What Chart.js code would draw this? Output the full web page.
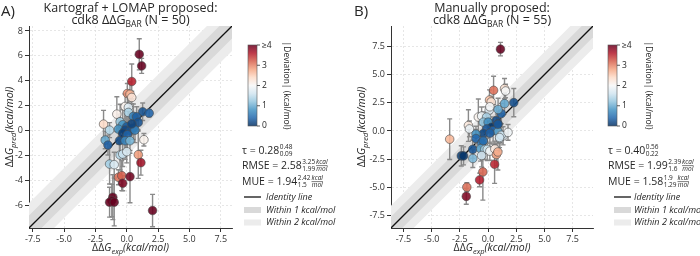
<!DOCTYPE html>
<html><head><meta charset="utf-8">
<script src="https://cdn.jsdelivr.net/npm/chart.js@4.4.1/dist/chart.umd.min.js"></script>
<style>
html,body{margin:0;padding:0;background:#fff;}
#wrap{display:flex;width:700px;height:256px;}
canvas{display:block;}
</style></head><body>
<div id="wrap"><canvas id="cA" width="350" height="256"></canvas><canvas id="cB" width="350" height="256"></canvas></div>
<script>
// ---------- Panel A data (Kartograf + LOMAP) ----------
const expA  = [1.0,1.19,0.40,0.05,0.26,0.40,-0.13,0.13,1.27,1.79,0.13,-0.79,0.53,0.79,-0.53,0.92,-1.85,-0.32,-1.37,-0.66,0.0,-0.13,0.26,0.53,0.66,-0.32,0.05,-1.72,-0.58,-0.13,0.26,1.37,-1.5,-0.53,-0.32,0.0,0.92,-1.37,-1.0,1.13,-0.66,-0.4,0.26,-0.32,-1.11,-1.19,-1.37,-1.0,2.06,0.4];
const predA = [6.13,5.2,3.95,2.99,2.93,2.67,1.95,1.87,1.52,1.41,1.47,1.33,1.15,1.12,0.72,0.67,0.53,0.48,0.05,0.13,0.32,0.05,0.0,0.21,0.05,-0.21,-0.32,-0.75,-0.8,-0.8,-0.8,-0.72,-1.15,-1.95,-1.87,-1.68,-1.92,-2.67,-2.72,-2.56,-3.73,-3.6,-3.68,-4.21,-5.33,-5.6,-5.73,-5.73,-6.4,0.55];
const errA  = [1.25,0.6,1.4,0.8,1.0,0.5,1.0,1.1,0.7,0.3,1.5,1.4,1.0,0.8,1.4,0.6,1.1,1.2,0.6,1.2,0.8,1.6,1.0,0.9,1.0,0.8,1.2,0.7,1.0,1.5,1.0,0.5,0.8,1.2,1.0,0.9,1.9,1.6,1.0,1.0,0.6,1.2,2.1,0.6,1.8,1.3,1.2,1.9,1.3,0.9];
// ---------- Panel B data (Manually proposed) ----------
const expB  = [1.1,1.46,1.55,0.49,0.13,0.28,1.46,2.28,0.1,0.16,-0.86,-0.57,-0.13,-1.74,-1.65,-3.4,-0.42,0.01,0.74,0.89,0.31,-0.13,0.45,-0.42,-1.07,-1.07,0.89,0.16,1.04,1.33,1.17,-0.57,-0.42,-1.36,-0.66,-0.28,-0.07,0.16,0.6,0.74,-0.57,-2.37,-2.17,-1.35,1.02,0.87,0.58,-0.46,-0.75,-1.88,-1.93,0.87,1.18,0.89,1.77];
const predB = [7.25,3.75,3.54,3.6,2.74,2.57,2.42,2.51,1.84,2.14,1.23,1.32,1.23,0.48,0.18,-0.73,0.78,0.78,0.93,0.63,0.33,0.18,0.03,-0.22,-0.28,-0.67,-0.06,-0.19,-0.67,-0.43,-0.38,-1.09,-0.88,-1.63,-1.57,-1.63,-1.63,-1.79,-1.6,-2.09,-2.18,-2.21,-2.21,-2.44,-0.58,-1.86,-2.95,-3.63,-4.34,-4.98,-5.8,0.59,1.54,1.9,-0.13];
const errB  = [0.6,0.9,0.6,1.25,0.9,0.5,0.9,1.25,1.0,0.6,1.6,0.8,0.9,1.4,0.7,1.8,0.9,1.0,1.2,0.8,0.7,0.8,1.2,0.9,0.7,0.8,0.9,0.9,1.1,0.8,0.7,1.0,0.9,0.8,1.1,0.9,1.0,0.8,0.7,1.0,1.0,0.9,0.8,0.8,0.9,1.6,1.7,2.5,0.6,0.4,0.7,0.9,0.9,1.0,0.7];

// ---------- axes / ticks ----------
const limA = [-7.8, 8.4];
const limB = [-8.6, 9.3];
const xTicksA = [-7.5,-5,-2.5,0,2.5,5,7.5];
const xTickLabelsA = ["-7.5","-5.0","-2.5","0.0","2.5","5.0","7.5"];
const yTicksA = [-6,-4,-2,0,2,4,6,8];
const yTickLabelsA = ["-6","-4","-2","0","2","4","6","8"];
const ticksB = [-7.5,-5,-2.5,0,2.5,5,7.5];
const tickLabelsB = ["-7.5","-5.0","-2.5","0.0","2.5","5.0","7.5"];
const bandWidths = [1, 2];
const cbTicks = [0,1,2,3,4];
const cbTickLabels = ["0","1","2","3","\u22654"];
const devMax = 4;

// ---------- texts ----------
const titleA = ["Kartograf + LOMAP proposed:", "cdk8 \u0394\u0394G", "BAR", " (N = 50)"];
const titleB = ["Manually proposed:", "cdk8 \u0394\u0394G", "BAR", " (N = 55)"];
const tauA  = ["0.28","0.48","0.09"];
const rmseA = ["2.58","3.25","1.99"];
const mueA  = ["1.94","2.42","1.5"];
const tauB  = ["0.40","0.56","0.22"];
const rmseB = ["1.99","2.39","1.6"];
const mueB  = ["1.58","1.9","1.29"];
const legendLabels = ["Identity line","Within 1 kcal/mol","Within 2 kcal/mol"];

// ---------- style ----------
const FONT = '"Open Sans", "DejaVu Sans", sans-serif';
const TXT = '#262626';
const BAND1 = '#d9d9d9', BAND2 = '#ececec';
const RdBu_r = ['#053061','#2166ac','#4393c3','#92c5de','#d1e5f0','#f7f7f7','#fddbc7','#f4a582','#d6604d','#b2182b','#67001f'];
function hex2rgb(h){return [parseInt(h.substr(1,2),16),parseInt(h.substr(3,2),16),parseInt(h.substr(5,2),16)];}
function cmap(t, a){
  t = Math.max(0, Math.min(1, t));
  const p = t*10, i = Math.min(9, Math.floor(p)), f = p - i;
  const c0 = hex2rgb(RdBu_r[i]), c1 = hex2rgb(RdBu_r[i+1]);
  const c = c0.map((v,k)=>Math.round(v + (c1[k]-v)*f));
  return `rgba(${c[0]},${c[1]},${c[2]},${a})`;
}
function fnt(size, style){ return (style||'') + ' ' + size + 'px ' + FONT; }

function drawParts(ctx, parts, x, y, align){
  let w = 0;
  parts.forEach(p => { ctx.font = fnt(p.size, p.style); p.w = ctx.measureText(p.t).width; w += p.w; });
  let cx = align === 'center' ? x - w/2 : x;
  ctx.textAlign = 'left'; ctx.textBaseline = 'alphabetic';
  parts.forEach(p => { ctx.font = fnt(p.size, p.style); ctx.fillText(p.t, cx, y + (p.dy||0)); cx += p.w; });
  return w;
}

function drawStat(ctx, label, vals, x, y, unit){
  ctx.fillStyle = TXT; ctx.textAlign='left'; ctx.textBaseline='alphabetic';
  ctx.font = fnt(10.5);
  const main = label + ' = ' + vals[0];
  ctx.fillText(main, x, y);
  let cx = x + ctx.measureText(main).width + 0.5;
  ctx.font = fnt(6.5);
  ctx.fillText(vals[1], cx, y - 4.8);
  ctx.fillText(vals[2], cx, y + 1.8);
  cx += Math.max(ctx.measureText(vals[1]).width, ctx.measureText(vals[2]).width) + 1;
  if (unit){
    ctx.font = fnt(6.5, 'italic');
    const wk = ctx.measureText('kcal').width, wm = ctx.measureText('mol').width;
    ctx.fillText('kcal', cx, y - 4.8);
    ctx.fillText('mol', cx + (wk-wm)/2, y + 2.2);
    ctx.strokeStyle = TXT; ctx.lineWidth = 0.6;
    ctx.beginPath(); ctx.moveTo(cx, y-3.4); ctx.lineTo(cx+wk, y-3.4); ctx.stroke();
  }
}

const errorBars = {
  id:'errorBars',
  beforeDatasetDraw(chart, args){
    const ds = chart.data.datasets[args.index];
    if (!ds.errors) return;
    const {ctx, chartArea:a, scales:{x, y}} = chart;
    ctx.save();
    ctx.beginPath(); ctx.rect(a.left, a.top, a.right-a.left, a.bottom-a.top); ctx.clip();
    ctx.strokeStyle = '#8a8a8a'; ctx.lineWidth = 1.4;
    ds.data.forEach((p, i) => {
      const px = x.getPixelForValue(p.x);
      const y1 = y.getPixelForValue(p.y + ds.errors[i]);
      const y2 = y.getPixelForValue(p.y - ds.errors[i]);
      ctx.beginPath();
      ctx.moveTo(px, y1); ctx.lineTo(px, y2);
      ctx.moveTo(px-2.5, y1); ctx.lineTo(px+2.5, y1);
      ctx.moveTo(px-2.5, y2); ctx.lineTo(px+2.5, y2);
      ctx.stroke();
    });
    ctx.restore();
  }
};

const annotations = {
  id:'annotations',
  afterDraw(chart, args, o){
    const ctx = chart.ctx, a = chart.chartArea;
    const cxm = (a.left + a.right)/2;
    ctx.save();
    ctx.fillStyle = TXT;
    ctx.font = fnt(15); ctx.textAlign='left'; ctx.textBaseline='alphabetic';
    ctx.fillText(o.letter, o.letterX, 16);
    drawParts(ctx, [{t:o.title[0], size:12.5}], cxm, 12, 'center');
    drawParts(ctx, [{t:o.title[1], size:12.5},{t:o.title[2], size:8.5, dy:2.5},{t:o.title[3], size:12.5}], cxm, 24, 'center');
    drawParts(ctx, [{t:'\u0394\u0394', size:10.5},{t:'G', size:10.5, style:'italic'},{t:'exp', size:7.5, style:'italic', dy:2.5},{t:'(kcal/mol)', size:10.5, style:'italic'}], cxm, 251, 'center');
    ctx.save();
    ctx.translate(o.yTitleX, (a.top+a.bottom)/2);
    ctx.rotate(-Math.PI/2);
    drawParts(ctx, [{t:'\u0394\u0394', size:10.5},{t:'G', size:10.5, style:'italic'},{t:'pred', size:7.5, style:'italic', dy:2.5},{t:'(kcal/mol)', size:10.5, style:'italic'}], 0, 4, 'center');
    ctx.restore();
    // colorbar
    const cbL = a.right + o.cbDx, cbW = 9, cbT = 45, cbB = 126;
    const g = ctx.createLinearGradient(0, cbB, 0, cbT);
    for (let k=0;k<=20;k++){ g.addColorStop(k/20, cmap(k/20, 0.85)); }
    ctx.fillStyle = g; ctx.fillRect(cbL, cbT, cbW, cbB-cbT);
    ctx.strokeStyle = '#555'; ctx.lineWidth = 0.6; ctx.strokeRect(cbL, cbT, cbW, cbB-cbT);
    ctx.fillStyle = TXT; ctx.font = fnt(8.5); ctx.textAlign='left'; ctx.textBaseline='middle';
    cbTicks.forEach((v,i)=>{
      const yy = cbB - v/devMax*(cbB-cbT);
      ctx.strokeStyle = '#333'; ctx.lineWidth = 0.8;
      ctx.beginPath(); ctx.moveTo(cbL+cbW, yy); ctx.lineTo(cbL+cbW+3, yy); ctx.stroke();
      ctx.fillText(cbTickLabels[i], cbL+cbW+5, yy+ (i===cbTicks.length-1 ? 1 : 0));
    });
    ctx.save();
    ctx.translate(cbL + o.cbLabelDx, (cbT+cbB)/2);
    ctx.rotate(Math.PI/2);
    ctx.font = fnt(8.5); ctx.textAlign='center'; ctx.textBaseline='middle';
    ctx.fillText('|Deviation| (kcal/mol)', 0, 0);
    ctx.restore();
    // stats
    const sx = a.right + o.statsDx;
    drawStat(ctx, '\u03c4', o.tau, sx, 154, false);
    drawStat(ctx, 'RMSE', o.rmse, sx, 169, true);
    drawStat(ctx, 'MUE', o.mue, sx, 185, true);
    // legend
    const lx = sx + o.legDx, tx = sx + o.legTx;
    ctx.strokeStyle = '#111'; ctx.lineWidth = 1.3;
    ctx.beginPath(); ctx.moveTo(lx, 197); ctx.lineTo(lx+17, 197); ctx.stroke();
    ctx.fillStyle = BAND1; ctx.fillRect(lx, 207, 17, 6);
    ctx.fillStyle = BAND2; ctx.fillRect(lx, 219.5, 17, 6);
    ctx.fillStyle = TXT; ctx.font = fnt(9, 'italic'); ctx.textAlign='left'; ctx.textBaseline='middle';
    ctx.fillText(legendLabels[0], tx, 197);
    ctx.fillText(legendLabels[1], tx, 210);
    ctx.fillText(legendLabels[2], tx, 222.5);
    ctx.restore();
  }
};

function makePanel(id, P){
  const lim = P.lim;
  const pts = P.exp.map((x,i)=>({x:x, y:P.pred[i]}));
  const cols = P.exp.map((x,i)=>cmap(Math.min(Math.abs(P.pred[i]-x), devMax)/devMax, 0.88));
  const ext = [lim[0]-3, lim[1]+3];
  const lineOf = off => ext.map(v => ({x:v, y:v+off}));
  const noLine = {borderWidth:0, borderColor:'rgba(0,0,0,0)', pointRadius:0, pointHoverRadius:0, tension:0};
  const axis = (ticksArr, labels, isX) => ({
    type:'linear', min:lim[0], max:lim[1],
    afterBuildTicks: ax => { ax.ticks = ticksArr.map(v=>({value:v})); },
    afterFit: s => { if (isX) s.height = 28; else s.width = P.yWidth; },
    ticks:{ callback:(v,i)=>labels[i], font:{family:FONT, size:9}, color:'#333', padding:2, maxRotation:0, autoSkip:false },
    grid:{ color:'#e0e0e0', lineWidth:0.8, tickLength:4, tickColor:'#333', tickWidth:1 },
    border:{ display:true, color:'#333', width:1, dash:[2,2] }
  });
  return new Chart(document.getElementById(id), {
    type:'scatter',
    data:{datasets:[
      {type:'scatter', data:pts, errors:P.err, pointBackgroundColor:cols, pointBorderColor:'#4a4a4a', pointBorderWidth:0.6, pointRadius:4.3, pointHoverRadius:4.3, order:0},
      {type:'line', data:lineOf(0), borderColor:'#111', borderWidth:1.3, pointRadius:0, fill:false, tension:0, order:1},
      Object.assign({type:'line', data:lineOf(bandWidths[0]), fill:'+1', backgroundColor:BAND1, order:2}, noLine),
      Object.assign({type:'line', data:lineOf(-bandWidths[0]), fill:false, order:2}, noLine),
      Object.assign({type:'line', data:lineOf(bandWidths[1]), fill:'+1', backgroundColor:BAND2, order:3}, noLine),
      Object.assign({type:'line', data:lineOf(-bandWidths[1]), fill:false, order:3}, noLine)
    ]},
    options:{
      responsive:false, animation:false, devicePixelRatio:1,
      layout:{padding:{left:0, right:P.padR, top:26, bottom:0}},
      scales:{ x:axis(P.xt, P.xl, true), y:axis(P.yt, P.yl, false) },
      plugins:{ legend:{display:false}, tooltip:{enabled:false}, annotations:P.ann }
    },
    plugins:[errorBars, annotations]
  });
}

makePanel('cA', {exp:expA, pred:predA, err:errA, lim:limA, xt:xTicksA, xl:xTickLabelsA, yt:yTicksA, yl:yTickLabelsA,
  yWidth:29, padR:118,
  ann:{letter:'A)', letterX:1, title:titleA, yTitleX:9, cbDx:16, cbLabelDx:38, statsDx:10, legDx:2, legTx:24, tau:tauA, rmse:rmseA, mue:mueA}});
makePanel('cB', {exp:expB, pred:predB, err:errB, lim:limB, xt:ticksB, xl:tickLabelsB, yt:ticksB, yl:tickLabelsB,
  yWidth:41, padR:107,
  ann:{letter:'B)', letterX:4, title:titleB, yTitleX:11, cbDx:15, cbLabelDx:40, statsDx:15, legDx:6, legTx:26, tau:tauB, rmse:rmseB, mue:mueB}});
</script>
</body></html>
